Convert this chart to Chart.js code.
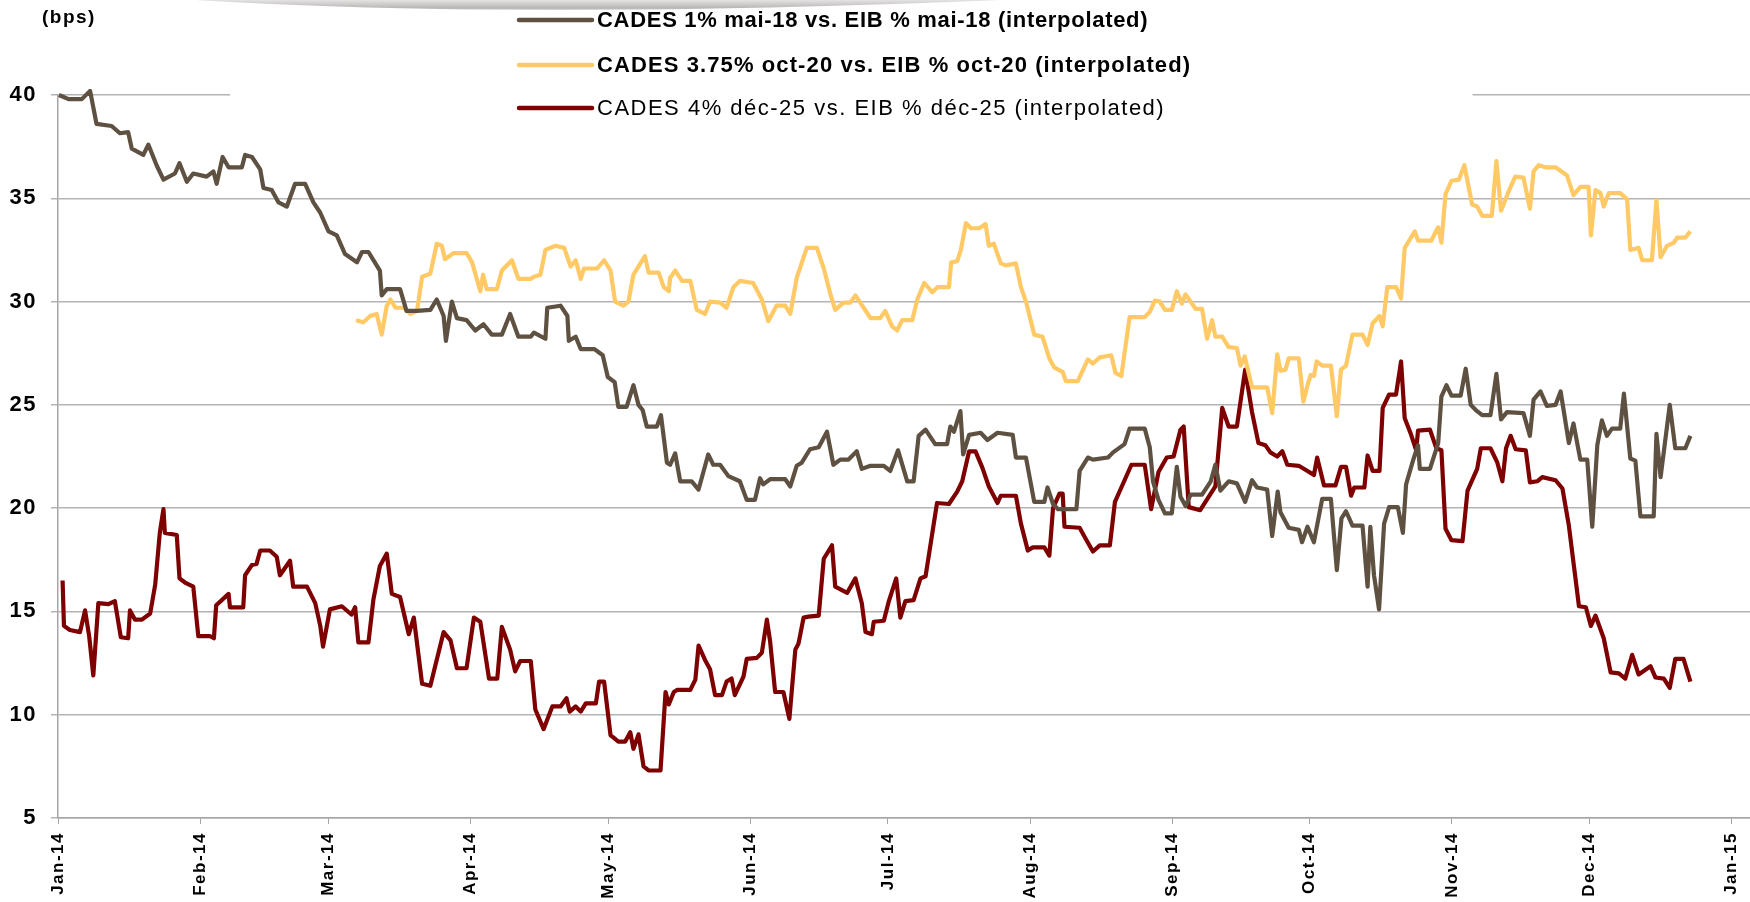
<!DOCTYPE html>
<html>
<head>
<meta charset="utf-8">
<script src="https://cdn.jsdelivr.net/npm/chart.js@4.4.1/dist/chart.umd.min.js"></script>
<style>
  html, body { margin: 0; padding: 0; background: #fff; }
  #wrap { width: 1750px; height: 902px; }
</style>
</head>
<body>
<div id="wrap"><canvas id="spreadChart"></canvas></div>
<script>
// x values are days since 1 Jan 2014
const monthDays = [0, 31, 59, 90, 120, 151, 181, 212, 243, 273, 304, 334, 365];
const monthLabels = ["Jan-14", "Feb-14", "Mar-14", "Apr-14", "May-14", "Jun-14", "Jul-14",
  "Aug-14", "Sep-14", "Oct-14", "Nov-14", "Dec-14", "Jan-15"];

const seriesNames = [
  "CADES 1% mai-18 vs. EIB % mai-18 (interpolated)",
  "CADES 3.75% oct-20 vs. EIB % oct-20 (interpolated)",
  "CADES 4% déc-25 vs. EIB % déc-25 (interpolated)"
];

const mai18Days = [0.2, 2.3, 5.2, 7.0, 8.4, 11.7, 13.5, 15.3, 16.1, 18.6, 19.7, 21.5, 23.0, 25.5, 26.5, 28.1, 29.5, 32.4, 33.9, 34.6,
  35.9, 37.2, 40.1, 40.8, 42.3, 44.1, 44.8, 46.6, 48.1, 49.9, 51.7, 53.9, 55.7, 57.2, 59.0, 60.8, 62.6, 65.2, 66.3, 67.7,
  70.2, 70.6, 71.7, 74.6, 76.0, 78.3, 81.2, 82.6, 84.1, 84.6, 85.9, 87.0, 89.1, 91.0, 92.8, 94.6, 96.8, 98.6, 100.4, 103.1,
  103.8, 106.3, 106.7, 109.6, 111.1, 111.4, 112.9, 114.0, 117.0, 118.8, 119.9, 121.4, 122.2, 124.0, 125.5, 126.6, 127.5, 128.4, 130.6, 131.5,
  132.8, 133.5, 134.6, 135.7, 138.2, 139.7, 141.8, 142.9, 144.4, 146.2, 148.7, 150.2, 152.0, 153.1, 153.8, 155.3, 158.6, 159.7, 161.1, 162.2,
  164.0, 165.9, 167.7, 169.1, 170.6, 172.4, 174.2, 175.3, 177.2, 180.1, 181.5, 183.2, 185.2, 186.6, 187.7, 189.2, 191.3, 193.9, 194.6, 195.4,
  196.8, 197.4, 198.7, 201.2, 202.7, 204.9, 208.2, 208.9, 211.1, 212.9, 215.1, 215.8, 217.0, 218.1, 222.1, 222.8, 224.6, 225.7, 229.0, 230.1,
  232.6, 233.7, 237.0, 238.1, 238.8, 240.0, 241.4, 242.9, 244.0, 244.8, 245.9, 247.0, 249.5, 251.4, 252.4, 253.5, 255.3, 257.1, 258.9, 260.4,
  261.5, 263.7, 264.8, 266.0, 266.6, 268.4, 270.6, 271.3, 272.5, 273.9, 275.7, 277.6, 278.9, 279.9, 280.9, 282.3, 284.5, 285.6, 286.2, 287.0,
  288.1, 289.2, 290.3, 292.2, 293.3, 294.0, 295.5, 296.6, 297.0, 299.2, 301.0, 301.7, 302.8, 303.9, 305.9, 307.0, 308.1, 309.2, 310.6, 312.4,
  313.7, 314.7, 316.0, 319.6, 321.0, 321.8, 323.3, 324.7, 326.6, 327.7, 329.5, 330.5, 332.0, 333.5, 334.6, 335.7, 336.7, 337.8, 338.9, 340.7,
  341.5, 342.9, 344.0, 345.1, 348.0, 348.6, 349.5, 351.5, 352.7, 354.9, 356.0];
const mai18Values = [40.0, 39.8, 39.8, 40.2, 38.6, 38.5, 38.15, 38.2, 37.4, 37.1, 37.6, 36.6, 35.9, 36.2, 36.7, 35.8, 36.2, 36.05, 36.3, 35.7,
  37.0, 36.5, 36.5, 37.1, 37.0, 36.4, 35.5, 35.4, 34.8, 34.6, 35.7, 35.7, 34.8, 34.3, 33.4, 33.2, 32.3, 31.9, 32.4, 32.4,
  31.5, 30.3, 30.6, 30.6, 29.55, 29.55, 29.6, 30.1, 29.3, 28.1, 30.0, 29.2, 29.1, 28.6, 28.9, 28.4, 28.4, 29.4, 28.3, 28.3,
  28.5, 28.2, 29.7, 29.8, 29.3, 28.1, 28.3, 27.7, 27.7, 27.4, 26.35, 26.1, 24.9, 24.9, 25.95, 25.0, 24.75, 23.95, 23.95, 24.5,
  22.2, 22.1, 22.65, 21.3, 21.3, 20.9, 22.6, 22.1, 22.1, 21.55, 21.3, 20.4, 20.4, 21.45, 21.15, 21.4, 21.4, 21.05, 22.05, 22.2,
  22.85, 22.95, 23.7, 22.1, 22.35, 22.35, 22.75, 21.9, 22.05, 22.05, 21.8, 22.8, 21.3, 21.3, 23.5, 23.8, 23.1, 23.1, 23.95, 23.7,
  24.7, 22.6, 23.55, 23.65, 23.3, 23.65, 23.55, 22.45, 22.45, 20.3, 20.3, 21.0, 20.2, 19.95, 19.95, 21.8, 22.45, 22.35, 22.45, 22.7,
  23.1, 23.85, 23.85, 22.95, 21.3, 20.4, 19.75, 19.75, 22.0, 20.55, 20.1, 20.65, 20.65, 21.3, 22.1, 20.85, 21.3, 21.2, 20.3, 21.35,
  21.0, 20.9, 18.65, 20.8, 19.8, 19.05, 18.95, 18.35, 19.1, 18.35, 20.45, 20.45, 17.0, 19.5, 19.85, 19.15, 19.15, 16.2, 19.1, 16.75,
  15.1, 19.25, 20.05, 20.05, 18.8, 21.15, 22.3, 23.05, 21.9, 21.9, 23.15, 25.4, 25.95, 25.45, 25.45, 26.75, 25.0, 24.75, 24.5, 24.5,
  26.5, 24.3, 24.65, 24.6, 23.5, 25.25, 25.65, 24.95, 25.0, 25.65, 23.15, 24.1, 22.35, 22.35, 19.1, 23.05, 24.25, 23.5, 23.85, 23.85,
  25.55, 22.4, 22.3, 19.6, 19.6, 23.6, 21.5, 25.0, 22.9, 22.9, 23.5];

const oct20Days = [65.0, 66.6, 68.1, 69.5, 70.6, 71.7, 72.5, 73.6, 75.4, 76.9, 78.3, 79.4, 81.2, 82.6, 83.7, 84.4, 86.3, 89.1, 90.3, 92.1,
  92.7, 93.5, 95.7, 96.8, 99.0, 100.4, 103.1, 103.8, 105.2, 106.3, 108.5, 110.4, 111.8, 112.9, 114.0, 114.7, 117.6, 119.1, 120.5, 121.5,
  123.3, 124.4, 125.5, 128.0, 128.8, 131.0, 132.1, 133.2, 133.5, 134.6, 136.1, 137.9, 139.3, 141.1, 142.2, 144.4, 145.8, 147.3, 148.7, 151.6,
  153.5, 154.9, 156.7, 158.6, 159.7, 161.1, 163.3, 165.5, 167.0, 168.4, 169.5, 171.3, 172.8, 173.9, 175.7, 177.2, 179.3, 180.4, 181.9, 183.0,
  184.1, 186.3, 187.4, 188.9, 190.7, 191.8, 194.3, 194.8, 196.1, 196.9, 198.0, 199.1, 200.9, 202.3, 203.0, 204.1, 205.6, 206.7, 208.9, 210.0,
  211.1, 212.9, 214.7, 216.2, 217.3, 219.1, 219.8, 222.4, 224.6, 225.7, 227.2, 229.7, 230.6, 231.9, 233.7, 237.0, 238.1, 239.2, 240.3, 241.4,
  242.9, 244.0, 245.1, 245.9, 248.1, 249.5, 250.6, 251.7, 252.4, 253.9, 255.3, 257.1, 257.9, 258.8, 260.4, 263.7, 264.8, 265.9, 266.6, 267.7,
  268.4, 270.6, 271.6, 272.5, 273.2, 273.9, 274.5, 275.7, 277.6, 278.9, 279.8, 280.9, 282.3, 284.5, 285.6, 286.7, 288.2, 288.9, 289.9, 291.8,
  292.9, 293.7, 295.9, 296.6, 299.5, 300.6, 301.0, 301.7, 302.6, 303.9, 305.5, 306.7, 308.4, 309.5, 310.6, 312.7, 313.7, 314.7, 316.4, 317.8,
  319.6, 321.0, 321.8, 322.9, 324.4, 326.6, 329.1, 330.5, 332.0, 333.8, 334.3, 335.3, 336.4, 337.1, 338.2, 340.7, 342.2, 342.9, 344.7, 345.5,
  347.6, 348.6, 349.5, 350.9, 352.4, 353.1, 354.9, 356.0];
const oct20Values = [29.1, 29.0, 29.3, 29.4, 28.4, 29.8, 30.1, 29.7, 29.7, 29.4, 29.55, 31.2, 31.35, 32.8, 32.7, 32.05, 32.35, 32.35, 31.9, 30.5,
  31.3, 30.6, 30.6, 31.5, 32.0, 31.1, 31.1, 31.2, 31.3, 32.5, 32.7, 32.6, 31.7, 32.0, 31.1, 31.6, 31.6, 32.0, 31.5, 30.0,
  29.8, 30.0, 31.3, 32.2, 31.4, 31.4, 30.7, 30.5, 31.15, 31.5, 31.0, 31.0, 29.6, 29.4, 30.0, 29.95, 29.7, 30.7, 31.0, 30.9,
  30.1, 29.05, 29.8, 29.8, 29.4, 31.15, 32.6, 32.6, 31.6, 30.4, 29.6, 29.95, 29.95, 30.3, 29.7, 29.2, 29.2, 29.55, 28.8, 28.6,
  29.1, 29.1, 30.1, 30.9, 30.45, 30.7, 30.7, 31.9, 31.95, 32.5, 33.8, 33.55, 33.55, 33.75, 32.7, 32.8, 31.85, 31.75, 31.85, 30.7,
  30.0, 28.4, 28.3, 27.25, 26.8, 26.6, 26.15, 26.15, 27.2, 27.0, 27.3, 27.4, 26.55, 26.4, 29.25, 29.25, 29.5, 30.05, 30.0, 29.6,
  29.6, 30.5, 29.9, 30.35, 29.65, 29.65, 28.2, 29.1, 28.3, 28.3, 27.8, 27.75, 26.9, 27.35, 25.85, 25.85, 24.6, 27.45, 26.65, 26.7,
  27.25, 27.25, 25.15, 25.95, 26.45, 26.4, 27.1, 26.9, 26.9, 24.45, 26.7, 26.9, 28.4, 28.4, 27.9, 28.95, 29.3, 28.8, 30.7, 30.7,
  30.15, 32.6, 33.4, 32.95, 32.95, 33.45, 33.6, 32.85, 35.2, 35.85, 35.9, 36.6, 34.7, 34.6, 34.15, 34.15, 36.8, 34.4, 35.35, 36.05,
  36.0, 34.5, 36.3, 36.6, 36.5, 36.5, 36.1, 35.15, 35.55, 35.55, 33.2, 35.4, 35.25, 34.6, 35.25, 35.25, 34.95, 32.5, 32.6, 32.0,
  32.0, 34.9, 32.15, 32.7, 32.85, 33.1, 33.1, 33.4];

const dec25Days = [1.0, 1.3, 2.6, 4.8, 5.9, 6.8, 7.7, 8.8, 11.0, 12.4, 13.7, 15.3, 15.7, 16.8, 18.3, 20.1, 21.2, 22.2, 23.0, 23.3,
  25.9, 26.5, 27.7, 29.5, 30.6, 33.2, 34.0, 34.5, 37.2, 37.5, 40.4, 40.8, 42.3, 43.3, 44.1, 46.2, 47.7, 48.4, 50.6, 51.3,
  54.3, 56.1, 57.2, 57.8, 59.3, 61.9, 64.0, 64.8, 65.5, 67.7, 68.8, 70.2, 71.7, 72.8, 74.6, 76.5, 77.6, 79.4, 81.2, 84.1,
  85.6, 87.0, 89.1, 90.7, 92.1, 94.0, 95.8, 96.8, 98.6, 99.7, 100.8, 103.1, 104.1, 105.9, 107.8, 109.6, 110.9, 111.6, 112.9, 114.0,
  115.1, 117.3, 118.0, 119.1, 120.5, 121.1, 122.2, 123.7, 124.8, 125.5, 126.6, 127.7, 128.8, 131.4, 132.5, 133.2, 134.3, 135.0, 137.9, 139.0,
  139.7, 141.1, 142.2, 143.3, 144.8, 145.8, 146.9, 147.6, 149.5, 150.2, 152.4, 153.5, 154.6, 155.3, 156.4, 158.2, 159.5, 160.8, 161.5, 162.6,
  163.7, 165.9, 167.0, 168.8, 169.5, 172.1, 173.9, 175.3, 176.1, 177.5, 177.9, 180.1, 181.2, 182.8, 183.7, 184.8, 186.6, 188.1, 189.2, 191.7,
  194.3, 196.1, 197.2, 198.7, 200.1, 201.6, 203.0, 204.9, 205.6, 208.9, 210.0, 211.5, 212.6, 215.1, 216.2, 217.0, 218.4, 219.1, 219.5, 222.8,
  224.3, 225.7, 227.2, 229.4, 230.5, 231.9, 234.1, 237.0, 238.4, 240.0, 241.8, 243.3, 244.8, 245.5, 246.6, 249.1, 252.4, 253.9, 255.3, 257.1,
  258.9, 260.4, 261.8, 263.3, 264.4, 265.9, 267.0, 268.1, 270.6, 272.5, 273.9, 274.6, 276.1, 278.6, 279.8, 280.9, 282.0, 282.7, 284.9, 285.6,
  286.7, 288.2, 288.9, 290.3, 291.8, 292.9, 293.7, 295.1, 296.2, 296.6, 299.2, 300.6, 301.7, 302.6, 303.9, 306.3, 307.4, 309.5, 310.3, 312.4,
  313.9, 315.0, 315.8, 316.8, 317.9, 320.1, 321.0, 322.6, 323.7, 326.6, 328.1, 329.5, 330.6, 331.7, 333.2, 334.3, 335.3, 337.1, 338.6, 340.4,
  341.8, 343.3, 344.7, 347.3, 348.4, 350.2, 351.5, 352.7, 354.5, 356.0];
const dec25Values = [16.5, 14.3, 14.1, 14.0, 15.05, 13.8, 11.9, 15.4, 15.35, 15.5, 13.75, 13.7, 15.05, 14.6, 14.6, 14.9, 16.3, 18.8, 19.95, 18.8,
  18.7, 16.6, 16.4, 16.2, 13.8, 13.8, 13.7, 15.3, 15.85, 15.2, 15.2, 16.75, 17.25, 17.3, 17.95, 17.95, 17.65, 16.75, 17.45, 16.2,
  16.2, 15.4, 14.3, 13.3, 15.1, 15.25, 14.85, 15.2, 13.5, 13.5, 15.6, 17.2, 17.8, 15.85, 15.7, 13.9, 14.7, 11.5, 11.4, 14.0,
  13.6, 12.25, 12.25, 14.7, 14.5, 11.75, 11.75, 14.25, 13.15, 12.1, 12.6, 12.6, 10.25, 9.3, 10.4, 10.4, 10.8, 10.15, 10.4, 10.15,
  10.55, 10.55, 11.6, 11.6, 9.0, 8.9, 8.7, 8.7, 9.15, 8.35, 9.05, 7.5, 7.3, 7.3, 11.1, 10.5, 11.1, 11.2, 11.2, 11.7,
  13.35, 12.65, 12.2, 10.95, 10.95, 11.6, 11.75, 10.95, 11.85, 12.7, 12.75, 13.0, 14.6, 13.55, 11.1, 11.1, 9.8, 13.15, 13.45, 14.7,
  14.75, 14.8, 17.55, 18.2, 16.2, 15.9, 16.6, 15.4, 14.0, 13.9, 14.5, 14.55, 15.5, 16.6, 14.7, 15.5, 15.55, 16.6, 16.7, 20.25,
  20.2, 20.8, 21.3, 22.75, 22.75, 21.95, 21.05, 20.25, 20.6, 20.6, 19.25, 17.95, 18.1, 18.1, 17.7, 20.0, 20.7, 20.7, 19.1, 19.05,
  18.45, 17.9, 18.2, 18.2, 20.3, 21.0, 22.1, 22.1, 19.95, 21.75, 22.45, 22.5, 23.8, 23.95, 20.05, 19.9, 21.05, 24.85, 23.95, 23.95,
  26.7, 24.65, 23.15, 23.05, 22.7, 22.5, 22.75, 22.1, 22.05, 21.8, 21.6, 22.45, 21.1, 21.1, 22.0, 22.0, 20.6, 21.0, 21.0, 22.55,
  21.8, 21.8, 24.85, 25.5, 25.5, 27.1, 24.35, 23.55, 22.8, 23.75, 23.8, 22.9, 22.8, 19.0, 18.45, 18.4, 20.85, 21.9, 22.9, 22.9,
  22.2, 21.3, 22.9, 23.5, 22.85, 22.8, 21.25, 21.3, 21.5, 21.35, 20.95, 19.15, 17.2, 15.25, 15.2, 14.3, 14.8, 13.7, 12.05, 12.0,
  11.75, 12.9, 11.95, 12.35, 11.8, 11.75, 11.3, 12.7, 12.7, 11.6];

const lineColors = ["#5e5141", "#ffc965", "#7f0000"];

function toPoints(days, values) {
  return days.map((d, i) => ({ x: d, y: values[i] }));
}

const FONT = "'Liberation Sans', Arial, sans-serif";

// white panel behind the legend hides part of the top gridline, plus the legend itself
const legendPlugin = {
  id: "sideLegend",
  beforeDraw(chart) {
    // the axis labels in the original are spaced out a bit
    chart.ctx.letterSpacing = "1.5px";
  },
  beforeDatasetsDraw(chart) {
    const ctx = chart.ctx;
    const xs = chart.scales.x;
    ctx.save();
    ctx.fillStyle = "#ffffff";
    ctx.fillRect(xs.getPixelForValue(37.5), 0, xs.getPixelForValue(308.5) - xs.getPixelForValue(37.5), chart.chartArea.top + 3);
    ctx.restore();
  },
  afterDraw(chart) {
    const ctx = chart.ctx;
    ctx.save();

    // faint grey swoosh left over from the slide header
    const g = ctx.createLinearGradient(0, 0, 0, 11);
    g.addColorStop(0, "#e4e2e2");
    g.addColorStop(0.75, "#b9b5b5");
    g.addColorStop(1, "#ececec");
    ctx.fillStyle = g;
    ctx.beginPath();
    ctx.moveTo(195, 0);
    ctx.quadraticCurveTo(520, 20, 1000, 0);
    ctx.closePath();
    ctx.fill();

    ctx.fillStyle = "#000";
    ctx.textBaseline = "middle";
    ctx.font = "bold 19px " + FONT;
    ctx.letterSpacing = "1.5px";
    ctx.fillText("(bps)", 42, 18);

    const rowsY = [20, 65, 108];
    const weights = ["bold", "bold", "normal"];
    const spacing = ["0.7px", "1.1px", "1.5px"];
    seriesNames.forEach((name, i) => {
      ctx.letterSpacing = "0px";
      ctx.strokeStyle = lineColors[i];
      ctx.lineWidth = 4.5;
      ctx.lineCap = "round";
      ctx.beginPath();
      ctx.moveTo(519, rowsY[i]);
      ctx.lineTo(592, rowsY[i]);
      ctx.stroke();
      ctx.font = weights[i] + " 22px " + FONT;
      ctx.letterSpacing = spacing[i];
      ctx.fillText(name, 597, rowsY[i] + 1);
    });
    ctx.restore();
    ctx.letterSpacing = "0px";
  }
};

const ctx = document.getElementById("spreadChart").getContext("2d");

const chart = new Chart(ctx, {
  type: "line",
  data: {
    datasets: [
      { label: seriesNames[0], data: toPoints(mai18Days, mai18Values), borderColor: lineColors[0] },
      { label: seriesNames[1], data: toPoints(oct20Days, oct20Values), borderColor: lineColors[1] },
      { label: seriesNames[2], data: toPoints(dec25Days, dec25Values), borderColor: lineColors[2] }
    ].map((ds) => Object.assign(ds, {
      borderWidth: 4.2,
      pointRadius: 0,
      tension: 0,
      fill: false,
      borderJoinStyle: "round",
      clip: 6
    }))
  },
  options: {
    responsive: true,
    maintainAspectRatio: false,
    animation: false,
    devicePixelRatio: 1,
    layout: { padding: { top: 95, left: 0, right: 0, bottom: 0 } },
    plugins: {
      legend: { display: false },
      tooltip: { enabled: false }
    },
    scales: {
      x: {
        type: "linear",
        min: 0,
        max: 369,
        afterBuildTicks: (scale) => {
          scale.ticks = monthDays.map((v) => ({ value: v }));
        },
        afterFit: (scale) => {
          scale.height = 84;
          scale.paddingLeft = 0;
          scale.paddingRight = 0;
        },
        ticks: {
          autoSkip: false,
          minRotation: 90,
          maxRotation: 90,
          padding: 8,
          color: "#000",
          font: { family: FONT, size: 17, weight: "bold" },
          callback: (value) => monthLabels[monthDays.indexOf(value)]
        },
        grid: { drawOnChartArea: false, drawTicks: true, tickLength: 6, color: "#a6a6a6" },
        border: { color: "#a6a6a6", width: 1.5 }
      },
      y: {
        min: 5,
        max: 40,
        afterFit: (scale) => { scale.width = 58; },
        ticks: {
          stepSize: 5,
          padding: 14,
          color: "#000",
          font: { family: FONT, size: 22, weight: "bold" }
        },
        grid: { color: "#b4b4b4", lineWidth: 1.5, tickLength: 7 },
        border: { color: "#a6a6a6", width: 1.5 }
      }
    }
  },
  plugins: [legendPlugin]
});
</script>
</body>
</html>
